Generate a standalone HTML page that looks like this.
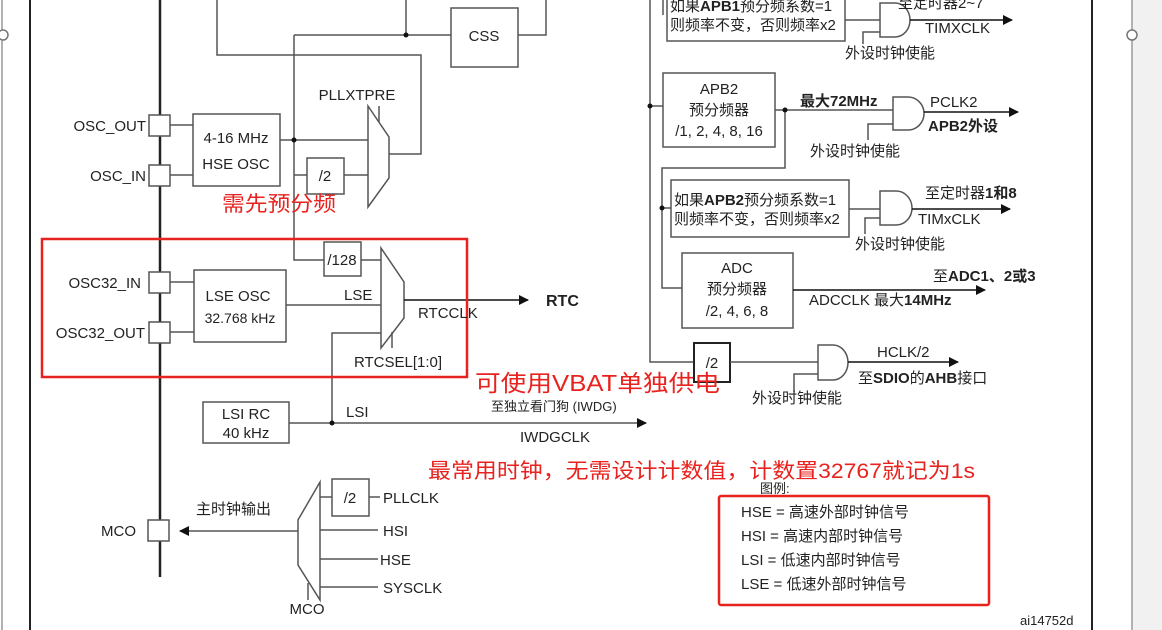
<!DOCTYPE html>
<html><head><meta charset="utf-8"><style>
body{margin:0;background:#fff}
svg{display:block}
text{font-family:"Liberation Sans","Noto Sans CJK SC",sans-serif;fill:#222;font-size:15px}
.c{text-anchor:middle}.e{text-anchor:end}.b{font-weight:bold}
.r{fill:#e8231f;font-size:21px}
</style></head><body>
<svg width="1162" height="630" viewBox="0 0 1162 630" xmlns="http://www.w3.org/2000/svg">
<defs><marker id="a" markerWidth="10" markerHeight="10" refX="9" refY="5" orient="auto" markerUnits="userSpaceOnUse"><path d="M0,0L10,5L0,10z" fill="#111"/></marker></defs>
<rect x="1133" y="0" width="29" height="630" fill="#f1f1f1"/>
<g stroke="#999" stroke-width="1.5" fill="none">
<line x1="2" y1="0" x2="2" y2="630"/><line x1="1132" y1="0" x2="1132" y2="630"/>
</g>
<circle cx="3" cy="35" r="5" fill="#fff" stroke="#777" stroke-width="1.5"/>
<circle cx="1132" cy="35" r="5" fill="#fff" stroke="#777" stroke-width="1.5"/>
<g stroke="#222" fill="none">
<line x1="30" y1="0" x2="30" y2="630" stroke-width="2"/>
<line x1="1092" y1="0" x2="1092" y2="630" stroke-width="2"/>
<line x1="160" y1="0" x2="160" y2="577" stroke-width="2.5"/>
</g>
<g stroke="#555" stroke-width="1.5" fill="none">
<polyline points="217,0 217,55 421,55 421,154 389,154"/>
<line x1="406" y1="0" x2="406" y2="35"/>
<line x1="294" y1="35" x2="451" y2="35"/>
<rect x="451" y="8" width="67" height="59" fill="#fff"/>
<polyline points="518,35 546,35 546,0"/>
<polyline points="294,35 294,260 324,260"/>
<rect x="149" y="115" width="21" height="21" fill="#fff"/>
<rect x="149" y="165" width="21" height="21" fill="#fff"/>
<line x1="170" y1="125" x2="193" y2="125"/><line x1="170" y1="175" x2="193" y2="175"/>
<rect x="193" y="114" width="87" height="72"/>
<line x1="280" y1="140" x2="368" y2="140"/>
<line x1="294" y1="175" x2="307" y2="175"/>
<rect x="307" y="158" width="37" height="36"/>
<line x1="344" y1="175" x2="368" y2="175"/>
<polygon points="368,106 389,137 389,178 368,207" fill="#fff"/>
<line x1="379" y1="106" x2="379" y2="122"/>
<rect x="149" y="272" width="21" height="21" fill="#fff"/>
<rect x="149" y="322" width="21" height="21" fill="#fff"/>
<line x1="170" y1="282" x2="194" y2="282"/><line x1="170" y1="332" x2="194" y2="332"/>
<rect x="194" y="270" width="92" height="72"/>
<rect x="324" y="242" width="37" height="34"/>
<line x1="361" y1="260" x2="381" y2="260"/>
<line x1="286" y1="305" x2="381" y2="305"/>
<polyline points="332,423 332,333 381,333"/>
<polygon points="381,248 404,282 404,318 381,348" fill="#fff"/>
<line x1="392" y1="332" x2="392" y2="348"/>
<line x1="404" y1="300" x2="528" y2="300" stroke="#111" marker-end="url(#a)"/>
<rect x="203" y="402" width="86" height="41"/>
<line x1="289" y1="423" x2="646" y2="423" marker-end="url(#a)"/>
<rect x="148" y="520" width="21" height="21" fill="#fff"/>
<line x1="298" y1="531" x2="180" y2="531" marker-end="url(#a)"/>
<polygon points="320,482 320,600 298,565 298,520" fill="#fff"/>
<line x1="308" y1="583" x2="308" y2="600"/>
<line x1="320" y1="497" x2="332" y2="497"/>
<rect x="332" y="479" width="37" height="37"/>
<line x1="369" y1="497" x2="380" y2="497"/>
<line x1="320" y1="530" x2="378" y2="530"/>
<line x1="320" y1="559" x2="378" y2="559"/>
<line x1="320" y1="587" x2="378" y2="587"/>
<polyline points="650,0 650,362 694,362"/>
<polyline points="663,0 663,15"/>
<rect x="667" y="-2" width="178" height="43"/>
<line x1="845" y1="20" x2="880" y2="20"/>
<path d="M880,3 H895 A15,17 0 0 1 895,37 H880 Z" fill="#fff"/>
<line x1="910" y1="20" x2="1012" y2="20" stroke="#111" marker-end="url(#a)"/>
<polyline points="863,44 863,32 880,32"/>
<line x1="650" y1="106" x2="663" y2="106"/>
<rect x="663" y="73" width="112" height="74"/>
<line x1="775" y1="110" x2="893" y2="110"/>
<path d="M893,97 H908 A16,16.5 0 0 1 908,130 H893 Z" fill="#fff"/>
<line x1="924" y1="112" x2="1018" y2="112" stroke="#111" marker-end="url(#a)"/>
<polyline points="868,140 868,124 893,124"/>
<polyline points="785,110 785,168 662,168 662,288 682,288"/>
<line x1="662" y1="208" x2="671" y2="208"/>
<rect x="671" y="180" width="178" height="57"/>
<line x1="849" y1="209" x2="880" y2="209"/>
<path d="M880,191 H896 A16,17 0 0 1 896,225 H880 Z" fill="#fff"/>
<line x1="912" y1="209" x2="1010" y2="209" stroke="#111" marker-end="url(#a)"/>
<polyline points="865,234 865,218 880,218"/>
<rect x="682" y="253" width="111" height="75"/>
<line x1="793" y1="290" x2="985" y2="290" stroke="#111" marker-end="url(#a)"/>
<rect x="694" y="343" width="36" height="39" stroke="#222" stroke-width="2"/>
<line x1="730" y1="362" x2="818" y2="362"/>
<path d="M818,345 H833 A15,17.5 0 0 1 833,380 H818 Z" fill="#fff"/>
<line x1="848" y1="362" x2="958" y2="362" stroke="#111" marker-end="url(#a)"/>
<polyline points="794,392 794,374 818,374"/>
</g>
<g fill="#111">
<circle cx="406" cy="35" r="2.5"/><circle cx="294" cy="140" r="2.5"/><circle cx="332" cy="423" r="2.5"/>
<circle cx="650" cy="106" r="2.5"/><circle cx="785" cy="110" r="2.5"/><circle cx="662" cy="208" r="2.5"/>
</g>
<rect x="42" y="239" width="425" height="138" fill="none" stroke="#e8231f" stroke-width="2.5"/>
<rect x="719" y="496" width="270" height="109" rx="2" fill="none" stroke="#e8231f" stroke-width="2.5"/>
<text x="484" y="41" class="c">CSS</text>
<text x="357" y="100" class="c">PLLXTPRE</text>
<text x="146" y="131" class="e">OSC_OUT</text>
<text x="146" y="181" class="e">OSC_IN</text>
<text x="236" y="143" class="c">4-16 MHz</text>
<text x="236" y="169" class="c">HSE OSC</text>
<text x="325" y="181" class="c">/2</text>
<text x="222" y="211" class="r" textLength="114" lengthAdjust="spacingAndGlyphs">需先预分频</text>
<text x="342" y="265" class="c">/128</text>
<text x="141" y="288" class="e">OSC32_IN</text>
<text x="145" y="338" class="e">OSC32_OUT</text>
<text x="238" y="301" class="c">LSE OSC</text>
<text x="240" y="323" class="c" style="font-size:14px">32.768 kHz</text>
<text x="344" y="300">LSE</text>
<text x="418" y="318">RTCCLK</text>
<text x="546" y="306" class="b" style="font-size:16px">RTC</text>
<text x="398" y="367" class="c">RTCSEL[1:0]</text>
<text x="475" y="391" class="r" style="font-size:23px" textLength="245" lengthAdjust="spacingAndGlyphs">可使用VBAT单独供电</text>
<text x="246" y="419" class="c">LSI RC</text>
<text x="246" y="438" class="c">40 kHz</text>
<text x="346" y="417">LSI</text>
<text x="491" y="411" style="font-size:13px">至独立看门狗  (IWDG)</text>
<text x="520" y="442">IWDGCLK</text>
<text x="428" y="478" class="r" textLength="547" lengthAdjust="spacingAndGlyphs">最常用时钟，无需设计计数值，计数置32767就记为1s</text>
<text x="196" y="514">主时钟输出</text>
<text x="136" y="536" class="e">MCO</text>
<text x="350" y="503" class="c">/2</text>
<text x="383" y="503">PLLCLK</text>
<text x="383" y="536">HSI</text>
<text x="380" y="565">HSE</text>
<text x="383" y="593">SYSCLK</text>
<text x="307" y="614" class="c">MCO</text>
<text x="760" y="493" style="font-size:13px">图例:</text>
<g style="font-size:14px">
<text x="741" y="517">HSE = 高速外部时钟信号</text>
<text x="741" y="541">HSI = 高速内部时钟信号</text>
<text x="741" y="565">LSI = 低速内部时钟信号</text>
<text x="741" y="589">LSE = 低速外部时钟信号</text>
</g>
<text x="1020" y="625" style="font-size:13px">ai14752d</text>
<g style="font-size:14px">
<text x="670" y="11">如果<tspan class="b">APB1</tspan>预分频系数=1</text>
<text x="670" y="30">则频率不变，否则频率x2</text>
<text x="898" y="8">至定时器2~7</text>
<text x="925" y="33" style="font-size:15px">TIMXCLK</text>
<text x="845" y="58">外设时钟使能</text>
<text x="719" y="94" class="c" style="font-size:15px">APB2</text>
<text x="719" y="115" class="c">预分频器</text>
<text x="719" y="136" class="c" style="font-size:15px">/1, 2, 4, 8, 16</text>
<text x="800" y="106" class="b">最大72MHz</text>
<text x="930" y="107" style="font-size:15px">PCLK2</text>
<text x="928" y="131" class="b">APB2外设</text>
<text x="810" y="156">外设时钟使能</text>
<text x="674" y="205">如果<tspan class="b">APB2</tspan>预分频系数=1</text>
<text x="674" y="224">则频率不变，否则频率x2</text>
<text x="925" y="198">至定时器<tspan class="b">1和8</tspan></text>
<text x="918" y="224" style="font-size:15px">TIMxCLK</text>
<text x="855" y="249">外设时钟使能</text>
<text x="737" y="273" class="c" style="font-size:15px">ADC</text>
<text x="737" y="294" class="c">预分频器</text>
<text x="737" y="316" class="c" style="font-size:15px">/2, 4, 6, 8</text>
<text x="933" y="281">至<tspan class="b">ADC1、2或3</tspan></text>
<text x="809" y="305" style="font-size:15px">ADCCLK  最大<tspan class="b">14MHz</tspan></text>
<text x="712" y="368" class="c" style="font-size:15px">/2</text>
<text x="877" y="357" style="font-size:15px">HCLK/2</text>
<text x="858" y="383">至<tspan class="b">SDIO</tspan>的<tspan class="b">AHB</tspan>接口</text>
<text x="752" y="403">外设时钟使能</text>
</g>
</svg>
</body></html>
